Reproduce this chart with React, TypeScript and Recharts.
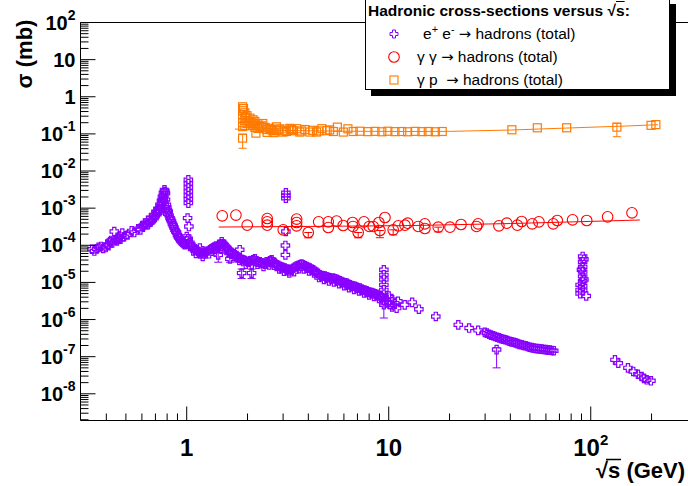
import { ErrorBar, ReferenceLine, Scatter, ScatterChart, XAxis, YAxis } from "recharts";

const FONT = '"Liberation Sans", Arial, Helvetica, sans-serif';
const PURPLE = "#8800ff";
const RED = "#ff0000";
const ORANGE = "#ff7a00";

const X_MIN = 0.298;
const X_MAX = 303;
const Y_MIN = 1.91e-9;
const Y_MAX = 100;

// axis ticks
const X_MAJOR = [1, 10, 100];
const X_MAJOR_BASE = ["1", "10", "10"];
const X_MAJOR_EXP = ["", "", "2"];
const X_MINOR = [0.4, 0.5, 0.6, 0.7, 0.8, 0.9, 2, 3, 4, 5, 6, 7, 8, 9, 20, 30, 40, 50, 60, 70, 80, 90, 200];

const Y_MAJOR = [1e2, 1e1, 1, 1e-1, 1e-2, 1e-3, 1e-4, 1e-5, 1e-6, 1e-7, 1e-8];
const Y_MAJOR_BASE = ["10", "10", "1", "10", "10", "10", "10", "10", "10", "10", "10"];
const Y_MAJOR_EXP = ["2", "", "", "-1", "-2", "-3", "-4", "-5", "-6", "-7", "-8"];
const Y_MINOR_STEPS = [2, 3, 4, 5, 6, 7, 8, 9];

// e+ e- -> hadrons  [sqrt(s) GeV, sigma mb]
const EE = [
  [0.34, 7.8e-5], [0.349, 7.0e-5], [0.358, 8.0e-5], [0.366, 8.8e-5], [0.376, 9.3e-5],
  [0.386, 8.2e-5], [0.397, 8.7e-5], [0.405, 1.05e-4], [0.41, 9.8e-5], [0.417, 1.26e-4],
  [0.423, 1.35e-4], [0.428, 1.15e-4], [0.438, 2.35e-4], [0.446, 1.4e-4], [0.452, 1.3e-4],
  [0.458, 1.56e-4], [0.464, 1.7e-4], [0.47, 1.45e-4], [0.48, 2.13e-4], [0.49, 1.7e-4],
  [0.51, 1.9e-4], [0.534, 2.45e-4], [0.55, 2.2e-4], [0.575, 2.78e-4], [0.59, 2.6e-4],
  [0.6, 3.2e-4], [0.61, 3.4e-4], [0.621, 4.0e-4], [0.632, 3.6e-4], [0.643, 4.6e-4],
  [0.643, 3.6e-4], [0.654, 4.1e-4], [0.665, 5.5e-4], [0.665, 4.4e-4], [0.676, 4.8e-4],
  [0.688, 6.6e-4], [0.688, 5.3e-4], [0.696, 6.0e-4], [0.704, 8.0e-4], [0.712, 6.8e-4],
  [0.72, 9.6e-4], [0.72, 7.5e-4], [0.728, 8.5e-4], [0.737, 1.23e-3], [0.737, 9.6e-4],
  [0.744, 1.1e-3], [0.75, 1.58e-3], [0.754, 1.3e-3], [0.758, 2.02e-3], [0.762, 1.6e-3],
  [0.767, 2.59e-3], [0.767, 1.84e-3], [0.771, 2.2e-3], [0.776, 3.1e-3], [0.78, 2.8e-3],
  [0.785, 2.5e-3], [0.785, 1.7e-3], [0.793, 1.23e-3], [0.797, 1.05e-3], [0.802, 9.0e-4],
  [0.806, 7.0e-4], [0.81, 8.1e-4], [0.818, 6.4e-4], [0.827, 5.4e-4], [0.834, 4.9e-4],
  [0.841, 4.4e-4], [0.849, 3.8e-4], [0.857, 3.4e-4], [0.865, 3.0e-4], [0.874, 2.6e-4],
  [0.883, 2.35e-4], [0.891, 2.2e-4], [0.9, 1.9e-4], [0.908, 1.72e-4], [0.916, 1.6e-4],
  [0.925, 1.48e-4], [0.934, 1.35e-4], [0.943, 1.28e-4], [0.952, 1.2e-4], [0.961, 1.15e-4],
  [0.97, 1.08e-4], [0.98, 1.03e-4], [0.99, 1.1e-4], [1.0, 1.72e-4], [1.0, 1.33e-4],
  [1.01, 5.4e-4], [1.017, 1.5e-4], [1.025, 3.2e-4], [1.037, 1.18e-4], [1.037, 9.3e-5],
  [1.047, 1.05e-4], [1.057, 9.3e-5], [1.077, 8.6e-5], [1.098, 8.1e-5], [1.098, 7.2e-5],
  [1.12, 7.5e-5], [1.14, 6.8e-5], [1.15, 6.3e-5], [1.162, 8.4e-5], [1.176, 6.2e-5],
  [1.19, 6.6e-5], [1.207, 5.8e-5], [1.225, 6.2e-5], [1.245, 6.6e-5], [1.27, 7.0e-5],
  [1.303, 7.6e-5], [1.325, 8.0e-5], [1.348, 8.5e-5], [1.37, 9.0e-5], [1.395, 8.5e-5],
  [1.395, 9.6e-5], [1.43, 9.2e-5], [1.461, 1.03e-4], [1.477, 1.08e-4], [1.493, 1.12e-4],
  [1.51, 1.1e-4], [1.528, 1.03e-4], [1.555, 9.3e-5], [1.582, 8.5e-5], [1.61, 7.6e-5],
  [1.636, 6.8e-5], [1.667, 6.4e-5], [1.698, 6.0e-5], [1.73, 5.5e-5], [1.766, 5.0e-5],
  [1.8, 4.8e-5], [1.834, 4.5e-5], [1.83, 7.6e-5], [1.87, 4.2e-5], [1.905, 4.06e-5],
  [1.94, 3.85e-5], [1.98, 3.66e-5], [2.02, 3.5e-5], [2.055, 3.8e-5], [2.09, 3.9e-5],
  [2.134, 4.06e-5], [2.175, 4.3e-5], [2.216, 3.8e-5], [2.26, 3.5e-5], [2.3, 3.57e-5],
  [2.345, 3.35e-5], [2.391, 3.31e-5], [2.44, 3.1e-5], [2.486, 3.57e-5], [2.53, 3.6e-5],
  [2.58, 3.8e-5], [2.61, 3.7e-5], [2.632, 4.06e-5], [2.68, 3.6e-5], [2.733, 3.25e-5],
  [2.79, 3.0e-5], [2.84, 2.88e-5], [2.9, 2.7e-5], [2.95, 2.6e-5], [3.0, 2.5e-5],
  [3.06, 2.43e-5], [3.12, 2.3e-5], [3.17, 2.27e-5], [3.2, 2.05e-5], [3.24, 2.19e-5],
  [3.3, 2.25e-5], [3.37, 2.4e-5], [3.43, 2.6e-5], [3.5, 2.76e-5], [3.56, 2.85e-5],
  [3.63, 3.0e-5], [3.7, 3.1e-5], [3.77, 2.97e-5], [3.85, 2.8e-5], [3.92, 2.68e-5],
  [4.0, 2.55e-5], [4.07, 2.43e-5], [4.15, 2.3e-5], [4.23, 2.19e-5], [4.31, 2.0e-5],
  [4.39, 1.88e-5], [4.47, 1.75e-5], [4.56, 1.6e-5], [4.65, 1.52e-5], [4.74, 1.5e-5],
  [4.83, 1.48e-5], [4.92, 1.41e-5], [5.01, 1.38e-5], [5.11, 1.33e-5], [5.21, 1.26e-5],
  [5.31, 1.31e-5], [5.42, 1.26e-5], [5.52, 1.22e-5], [5.62, 1.15e-5], [5.73, 1.11e-5],
  [5.84, 1.06e-5], [5.95, 1.01e-5], [6.07, 9.8e-6], [6.19, 9.6e-6], [6.3, 9.0e-6],
  [6.42, 8.6e-6], [6.55, 8.2e-6], [6.67, 8.0e-6], [6.8, 7.8e-6], [6.93, 7.5e-6],
  [7.06, 7.2e-6], [7.2, 7.0e-6], [7.34, 6.6e-6], [7.48, 6.3e-6], [7.62, 6.1e-6],
  [7.77, 5.9e-6], [7.92, 5.6e-6], [8.07, 5.4e-6], [8.22, 5.3e-6], [8.38, 5.2e-6],
  [8.55, 4.9e-6], [8.71, 4.8e-6], [8.88, 4.5e-6], [9.05, 4.3e-6], [9.15, 4.1e-6],
  [9.26, 3.9e-6],
  // lower edge of the dense band
  [1.11, 6.0e-5], [1.2, 5.0e-5], [1.29, 5.9e-5], [1.38, 7.0e-5], [1.47, 8.3e-5],
  [1.49, 1.25e-4], [1.54, 8.0e-5], [1.62, 6.2e-5], [1.71, 4.9e-5], [1.82, 3.9e-5],
  [1.96, 3.1e-5], [2.1, 3.1e-5], [2.24, 3.1e-5], [2.4, 2.7e-5], [2.56, 2.95e-5],
  [2.7, 2.9e-5], [2.87, 2.3e-5], [3.03, 2.0e-5], [3.22, 1.8e-5], [3.4, 1.95e-5],
  [3.6, 2.35e-5], [3.8, 2.3e-5], [4.03, 2.05e-5], [4.27, 1.8e-5], [4.52, 1.35e-5],
  [4.78, 1.2e-5], [5.06, 1.1e-5], [5.36, 1.03e-5], [5.68, 9.2e-6], [6.02, 8.2e-6],
  [6.36, 7.2e-6], [6.74, 6.5e-6], [7.13, 5.9e-6], [7.55, 5.2e-6], [8.0, 4.6e-6],
  [8.46, 4.2e-6], [8.95, 3.7e-6],
  [9.46, 2.19e-5], [9.46, 1.6e-5], [9.46, 1.2e-5], [9.46, 8.6e-6], [9.46, 6.3e-6],
  [9.46, 4.6e-6], [9.46, 3.4e-6], [9.76, 3.4e-6], [9.76, 2.8e-6], [10.0, 4.3e-6],
  [10.0, 2.9e-6], [10.13, 2.5e-6], [10.4, 3.4e-6], [10.4, 2.2e-6], [10.7, 2.77e-6],
  [10.94, 2.03e-6], [11.1, 3.1e-6], [12.0, 2.49e-6], [13.06, 2.9e-6], [14.1, 1.9e-6],
  [17.1, 1.21e-6], [22.1, 7.2e-7], [25.0, 5.9e-7], [27.7, 5.1e-7], [29.9, 4.5e-7],
  [30.6, 4.3e-7], [31.4, 4.0e-7], [32.1, 3.8e-7], [32.9, 3.65e-7], [33.6, 3.5e-7],
  [34.4, 3.35e-7], [35.2, 3.2e-7], [36.1, 3.05e-7], [36.9, 2.95e-7], [37.8, 2.85e-7],
  [38.7, 2.72e-7], [39.6, 2.6e-7], [40.5, 2.5e-7], [41.5, 2.45e-7], [42.4, 2.35e-7],
  [43.4, 2.25e-7], [44.4, 2.15e-7], [45.5, 2.09e-7], [46.5, 2.0e-7], [47.6, 1.96e-7],
  [48.7, 1.88e-7], [49.8, 1.8e-7], [51.0, 1.75e-7], [52.2, 1.7e-7], [53.4, 1.66e-7],
  [54.6, 1.65e-7], [55.9, 1.62e-7], [57.2, 1.6e-7], [58.5, 1.56e-7], [59.9, 1.55e-7],
  [61.3, 1.5e-7], [62.7, 1.5e-7], [64.1, 1.47e-7], [65.6, 1.45e-7],
  [88.6, 8.6e-6], [88.6, 6.3e-6], [88.6, 5.0e-6], [91.2, 5.0e-5], [91.2, 3.6e-5],
  [91.2, 2.65e-5], [91.2, 1.95e-5], [91.2, 1.45e-5], [91.2, 1.07e-5], [91.2, 7.9e-6],
  [91.2, 6.1e-6], [92.5, 4.2e-5], [90.0, 2.2e-5], [92.5, 1.2e-5], [95.0, 4.3e-6],
  [131.8, 8.2e-8], [136.9, 6.7e-8], [152.8, 5.0e-8], [162.3, 4.0e-8], [171.2, 3.35e-8],
  [178.6, 2.92e-8], [183.4, 2.6e-8], [189.2, 2.38e-8], [198.6, 2.24e-8],
  [1.019, 5.8e-3], [1.019, 4.6e-3], [1.019, 3.6e-3], [1.019, 2.8e-3], [1.019, 2.2e-3],
  [1.019, 1.75e-3], [1.019, 1.37e-3],
  [3.097, 2.6e-3], [3.097, 2.2e-3], [3.097, 1.85e-3], [3.097, 2.35e-4], [3.08, 9.9e-5],
  [3.08, 5.5e-5],
];
// [sqrt(s), sigma, err low, err high]
const EE_ERR = [
  [1.432, 5.5e-5, 2.0e-5, 1.0e-5], [1.636, 4.3e-5, 0.8e-5, 0.8e-5], [1.87, 1.78e-5, 0.5e-5, 0.5e-5],
  [2.095, 1.78e-5, 0.5e-5, 0.5e-5], [9.46, 2.5e-6, 1.4e-6, 0], [34.2, 1.55e-7, 1.05e-7, 0.2e-7],
];

// gamma gamma -> hadrons
const GG = [
  [1.499, 6.2e-4], [1.752, 6.5e-4], [1.993, 3.49e-4], [2.503, 5.26e-4], [2.503, 4.29e-4],
  [2.503, 3.49e-4], [3.005, 2.61e-4], [3.5, 5.07e-4], [3.5, 4.11e-4], [3.5, 3.35e-4],
  [4.5, 4.29e-4], [5.02, 4.29e-4], [5.02, 3.01e-4], [5.52, 4.48e-4], [5.95, 3.41e-4],
  [6.62, 4.11e-4], [6.65, 3.21e-4], [7.54, 4.29e-4], [8.01, 3.21e-4], [8.38, 3.21e-4],
  [8.94, 4.11e-4], [9.58, 5.6e-4], [11.15, 3.35e-4], [12.03, 3.49e-4], [12.41, 3.95e-4],
  [14.0, 3.21e-4], [15.1, 3.79e-4], [15.1, 2.83e-4], [20.1, 3.08e-4], [22.8, 3.63e-4],
  [27.2, 3.21e-4], [27.7, 3.79e-4], [35.1, 3.35e-4], [38.4, 3.95e-4], [43.3, 3.49e-4],
  [45.5, 4.37e-4], [51.3, 3.79e-4], [55.4, 4.29e-4], [65.2, 3.79e-4], [68.3, 4.65e-4],
  [81.3, 4.85e-4], [95.5, 4.65e-4], [121.2, 5.85e-4], [160, 7.5e-4],
];
const GG_ERR = [
  [3.996, 2.21e-4, 0.62e-4, 0], [7.06, 2.21e-4, 0.62e-4, 0], [9.04, 2.5e-4, 0.9e-4, 0],
  [10.52, 2.61e-4, 0.7e-4, 0], [17.58, 3.08e-4, 0.78e-4, 0],
];
const GG_FIT = [[1.44, 3.1e-4], [5, 3.25e-4], [13, 3.4e-4], [40, 3.85e-4], [100, 4.4e-4], [175, 4.8e-4]];

// gamma p -> hadrons
const GP = [
  [1.891, 0.537], [1.891, 0.42], [1.891, 0.33], [1.891, 0.26], [1.891, 0.2], [1.891, 0.157],
  [1.91, 0.48], [1.94, 0.37], [1.94, 0.23], [1.94, 0.167], [1.96, 0.28], [1.987, 0.31],
  [1.987, 0.19], [2.02, 0.22], [2.055, 0.266], [2.055, 0.19], [2.1, 0.2], [2.13, 0.24],
  [2.13, 0.167], [2.175, 0.216], [2.175, 0.15], [2.2, 0.105], [2.2, 0.175], [2.25, 0.19],
  [2.25, 0.14], [2.3, 0.158], [2.34, 0.165], [2.38, 0.146], [2.38, 0.19], [2.44, 0.15],
  [2.486, 0.131], [2.5, 0.11], [2.58, 0.141], [2.62, 0.13], [2.67, 0.122], [2.7, 0.108],
  [2.78, 0.122], [2.78, 0.155], [2.84, 0.128], [2.89, 0.137], [2.99, 0.112], [3.05, 0.125],
  [3.12, 0.116], [3.24, 0.141], [3.3, 0.13], [3.36, 0.122], [3.5, 0.138], [3.63, 0.112],
  [3.7, 0.12], [3.85, 0.131], [4.07, 0.112], [4.2, 0.125], [4.39, 0.112], [4.5, 0.12],
  [4.67, 0.138], [4.95, 0.122], [5.1, 0.128], [5.32, 0.116], [5.57, 0.152], [5.96, 0.112],
  [6.28, 0.137], [6.67, 0.116], [7.2, 0.118], [7.88, 0.115], [8.55, 0.117], [9.24, 0.114],
  [9.9, 0.118], [10.74, 0.115], [11.6, 0.116], [12.4, 0.114], [13.5, 0.117], [14.6, 0.115],
  [15.7, 0.116], [17.0, 0.114], [18.4, 0.116],
  [40.7, 0.129], [54.4, 0.146], [76.0, 0.146], [198.8, 0.17], [210, 0.178],
];
const GP_ERR = [[1.891, 0.077, 0.036, 0.02], [134.7, 0.152, 0.068, 0.04]];
const GP_FIT = [
  [1.73, 0.135], [3.0, 0.124], [6.0, 0.118], [12, 0.116], [20, 0.117], [40, 0.127],
  [80, 0.145], [150, 0.163], [215, 0.177],
];

const pts = (a: number[][]) => a.map(([x, y]) => ({ x, y }));
const errPts = (a: number[][]) => a.map(([x, y, lo, hi]) => ({ x, y, err: [lo, hi] }));

const isMajor = (list: number[], v: number) =>
  list.findIndex((m) => Math.abs(Math.log10(m) - Math.log10(v)) < 1e-6);

const xTicks = [...X_MINOR, ...X_MAJOR].sort((a, b) => a - b);
const yTicks = [1e-9, ...Y_MAJOR]
  .flatMap((d) => Y_MINOR_STEPS.map((k) => Number((k * d).toPrecision(3))))
  .filter((v) => v > Y_MIN && v < Y_MAX)
  .concat(Y_MAJOR)
  .sort((a, b) => a - b);

function XTick(props: any) {
  const { x, y, payload } = props;
  const i = isMajor(X_MAJOR, payload.value);
  return (
    <g>
      <line x1={x} y1={y} x2={x} y2={y - (i >= 0 ? 14 : 7)} stroke="#000" />
      {i >= 0 && (
        <text x={x} y={y + 27} textAnchor="middle" dominantBaseline="central" fontFamily={FONT} fontWeight="bold" fontSize={24} fill="#000">
          {X_MAJOR_BASE[i]}
          {X_MAJOR_EXP[i] && <tspan dy={-9} fontSize={15}>{X_MAJOR_EXP[i]}</tspan>}
        </text>
      )}
    </g>
  );
}

function YTick(props: any) {
  const { x, y, payload } = props;
  const i = isMajor(Y_MAJOR, payload.value);
  return (
    <g>
      <line x1={x} y1={y} x2={x + (i >= 0 ? 15 : 8)} y2={y} stroke="#000" />
      {i >= 0 && (
        <text x={x - 5} y={y} textAnchor="end" dominantBaseline="central" fontFamily={FONT} fontWeight="bold" fontSize={20} fill="#000">
          {Y_MAJOR_BASE[i]}
          {Y_MAJOR_EXP[i] && <tspan dy={-8} fontSize={14}>{Y_MAJOR_EXP[i]}</tspan>}
        </text>
      )}
    </g>
  );
}

const crossPath = (cx: number, cy: number, r: number, a: number) =>
  `M${cx - a},${cy - r}H${cx + a}V${cy - a}H${cx + r}V${cy + a}H${cx + a}V${cy + r}H${cx - a}V${cy + a}H${cx - r}V${cy - a}H${cx - a}Z`;

const CrossMark = (p: any) => <path d={crossPath(p.cx, p.cy, 4.2, 1.6)} fill="none" stroke={PURPLE} strokeWidth={1.2} />;
const CircleMark = (p: any) => <circle cx={p.cx} cy={p.cy} r={5.3} fill="none" stroke={RED} strokeWidth={1.1} />;
const SquareMark = (p: any) => <rect x={p.cx - 4} y={p.cy - 4} width={8} height={8} fill="none" stroke={ORANGE} strokeWidth={1.2} />;
const NoMark = () => <g />;

const ARROW = <span style={{ fontFamily: '"DejaVu Sans", sans-serif', fontSize: "0.95em" }}>→</span>;
const SUP = { fontSize: "0.7em", lineHeight: 0 } as const;

const legendRows = [
  { mark: "cross", text: <>e<sup style={SUP}>+</sup> e<sup style={SUP}>-</sup> {ARROW} hadrons (total)</>, left: 57 },
  { mark: "circle", text: <>γ γ {ARROW} hadrons (total)</>, left: 51 },
  { mark: "square", text: <>γ p&nbsp; {ARROW} hadrons (total)</>, left: 51 },
];

function LegendBox() {
  return (
    <div style={{ position: "absolute", left: 365, top: -2, width: 305, height: 92, boxSizing: "border-box", border: "1px solid #000", background: "#fff", boxShadow: "6px 6px 0 #000", fontFamily: FONT, color: "#000" }}>
      <div style={{ position: "absolute", left: 2, top: 3, fontWeight: "bold", fontSize: 15.5, whiteSpace: "nowrap", lineHeight: "18px" }}>
        Hadronic cross-sections versus √<span style={{ textDecoration: "overline" }}>s</span>:
      </div>
      {legendRows.map((r, i) => {
        const cy = 35 + i * 23.2;
        return (
          <div key={i}>
            <svg style={{ position: "absolute", left: 21, top: cy - 7 }} width={14} height={14}>
              {r.mark === "cross" && <path d={crossPath(7, 7, 4, 1.5)} fill="none" stroke={PURPLE} />}
              {r.mark === "circle" && <circle cx={7} cy={7} r={5.3} fill="none" stroke={RED} strokeWidth={1.1} />}
              {r.mark === "square" && <rect x={3} y={3} width={8} height={8} fill="none" stroke={ORANGE} strokeWidth={1.1} />}
            </svg>
            <div style={{ position: "absolute", left: r.left, top: cy - 9, fontSize: 15.5, lineHeight: "18px", whiteSpace: "nowrap" }}>{r.text}</div>
          </div>
        );
      })}
    </div>
  );
}

export default function App() {
  return (
    <div style={{ position: "absolute", left: 0, top: 0, width: 688, height: 486, background: "#fff", overflow: "hidden", fontFamily: FONT }}>
      <ScatterChart width={688} height={486} margin={{ top: 22.5, right: 0, bottom: 0, left: 0 }}>
        <XAxis
          type="number"
          dataKey="x"
          scale="log"
          domain={[X_MIN, X_MAX]}
          allowDataOverflow
          ticks={xTicks}
          interval={0}
          tick={<XTick />}
          tickLine={false}
          tickSize={0}
          tickMargin={0}
          height={65.5}
          axisLine={{ stroke: "#000" }}
          label={{
            content: () => (
              <g>
                <text x={596} y={470} dominantBaseline="central" fontFamily={FONT} fontWeight="bold" fontSize={22} fill="#000">
                  √s (GeV)
                </text>
                <line x1={606} x2={621} y1={459.5} y2={459.5} stroke="#000" strokeWidth={1.5} />
              </g>
            ),
          }}
        />
        <YAxis
          type="number"
          dataKey="y"
          scale="log"
          domain={[Y_MIN, Y_MAX]}
          allowDataOverflow
          ticks={yTicks}
          interval={0}
          tick={<YTick />}
          tickLine={false}
          tickSize={0}
          tickMargin={0}
          width={80.5}
          axisLine={{ stroke: "#000" }}
          label={{
            content: () => (
              <text transform="translate(24,54) rotate(-90)" textAnchor="middle" dominantBaseline="central" fontFamily={FONT} fontWeight="bold" fontSize={22} fill="#000">
                σ (mb)
              </text>
            ),
          }}
        />
        <ReferenceLine y={Y_MAX} stroke="#000" strokeWidth={1} />
        <Scatter data={pts(EE)} shape={CrossMark} isAnimationActive={false} />
        <Scatter data={errPts(EE_ERR)} shape={CrossMark} isAnimationActive={false}>
          <ErrorBar dataKey="err" direction="y" width={4} stroke={PURPLE} strokeWidth={1} />
        </Scatter>
        <Scatter data={pts(GG_FIT)} line={{ stroke: RED, strokeWidth: 1 }} shape={NoMark} isAnimationActive={false} />
        <Scatter data={pts(GG)} shape={CircleMark} isAnimationActive={false} />
        <Scatter data={errPts(GG_ERR)} shape={CircleMark} isAnimationActive={false}>
          <ErrorBar dataKey="err" direction="y" width={4} stroke={RED} strokeWidth={1} />
        </Scatter>
        <Scatter data={pts(GP_FIT)} line={{ stroke: ORANGE, strokeWidth: 1 }} shape={NoMark} isAnimationActive={false} />
        <Scatter data={pts(GP)} shape={SquareMark} isAnimationActive={false} />
        <Scatter data={errPts(GP_ERR)} shape={SquareMark} isAnimationActive={false}>
          <ErrorBar dataKey="err" direction="y" width={4} stroke={ORANGE} strokeWidth={1} />
        </Scatter>
      </ScatterChart>
      <LegendBox />
    </div>
  );
}
